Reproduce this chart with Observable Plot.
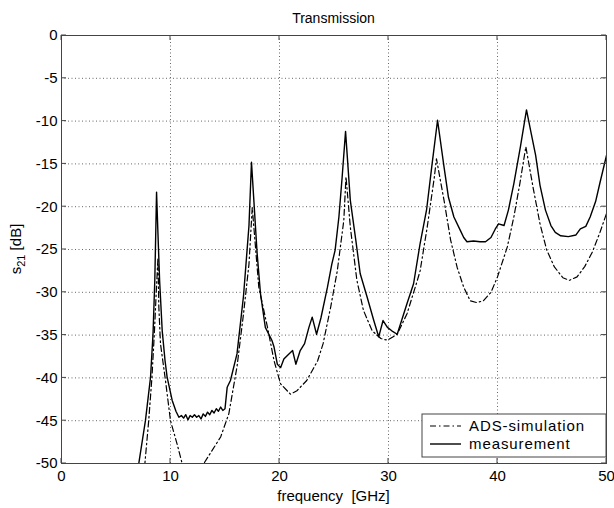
<!DOCTYPE html>
<html><head><meta charset="utf-8">
<script src="https://cdn.jsdelivr.net/npm/d3@7"></script>
<script src="https://cdn.jsdelivr.net/npm/@observablehq/plot@0.6"></script>
<style>body{margin:0;background:#fff}</style>
</head><body><div id="chart"></div>
<script>
// measurement (solid)
const measFreq = [6.9,7.09,7.7,8.17,8.4,8.56,8.65,8.72,8.84,9.0,9.24,9.5,9.69,10.15,10.5,10.77,11.0,11.2,11.4,11.6,11.8,12.0,12.2,12.4,12.6,12.8,13.0,13.2,13.4,13.6,13.8,14.0,14.2,14.4,14.6,14.8,15.0,15.2,15.5,16.1,16.7,17.2,17.43,17.95,18.26,18.7,19.3,19.5,19.8,20.1,20.4,20.7,21.2,21.5,21.9,22.3,22.7,23.0,23.4,23.8,24.4,24.8,25.1,25.45,25.75,26.06,26.5,27.0,27.4,28.05,28.65,29.1,29.5,29.9,30.3,30.8,31.1,31.7,32.3,32.9,33.5,34.0,34.5,35.1,35.5,36.0,36.6,36.9,37.2,37.8,38.4,38.9,39.4,39.8,40.1,40.6,41.0,41.5,42.1,42.66,43.1,43.5,43.9,44.4,44.9,45.3,45.8,46.5,47.2,47.6,48.1,48.5,49.0,49.4,50.0];
const measDb = [-52,-50,-45,-39.9,-34.8,-28.6,-22.8,-18.3,-22.8,-28.6,-34.5,-38,-39.9,-42.6,-43.9,-44.6,-44.4,-44.7,-44.3,-44.9,-44.4,-44.6,-44.3,-44.6,-44.4,-44.8,-44.2,-44.5,-44.0,-44.3,-43.8,-44.1,-43.6,-43.9,-43.4,-43.8,-43.6,-41.1,-40.3,-37.2,-30.4,-22.2,-14.8,-25.5,-30.2,-34.1,-35.6,-36.4,-38.4,-38.8,-37.8,-37.4,-36.8,-38.4,-36.8,-36.0,-34.1,-32.9,-34.9,-33.0,-29.4,-26.7,-25.1,-21.2,-16.5,-11.2,-19.3,-23.9,-27.8,-30.6,-33.3,-35.2,-33.3,-34.1,-34.5,-34.9,-33.7,-31.3,-29.0,-24.3,-20.3,-15.0,-9.9,-15.4,-18.9,-21.2,-22.8,-23.6,-24.1,-24.0,-24.1,-24.1,-23.6,-22.6,-22.0,-22.2,-20.4,-17.3,-13.0,-8.7,-11.5,-14.0,-17.5,-20.4,-22.2,-23.0,-23.4,-23.5,-23.3,-22.6,-22.3,-21.2,-19.4,-17.2,-14.0];
// ADS simulation (dash-dot)
const simFreq = [7.5,7.65,8.0,8.3,8.53,8.7,8.85,8.93,9.08,9.54,10.0,10.6,11.07,12.0,13.06,14.6,15.35,16.1,16.7,17.2,17.5,18.1,18.9,19.5,20.1,21.0,21.6,22.5,23.5,24.0,24.7,25.3,25.9,26.1,26.5,27.1,27.7,28.5,29.3,29.9,30.8,31.7,32.6,32.9,33.55,34.2,34.4,35.1,35.7,36.3,36.9,37.5,38.1,38.7,39.4,40.0,40.9,41.5,42.05,42.6,43.3,43.9,44.5,45.2,46.0,46.6,47.3,48.0,48.7,49.4,50.0];
const simDb = [-52,-50,-45,-39.9,-34.5,-29.8,-26,-31.7,-36,-40.3,-45,-47.7,-50,-52,-50,-46.9,-44.2,-38.7,-32.5,-26.7,-20.1,-29.4,-34.1,-38,-40.7,-41.9,-41.5,-40.3,-38,-36.0,-31.7,-27.5,-21.6,-16.5,-22.4,-28.6,-32.1,-34.5,-35.4,-35.6,-34.9,-32.5,-28.8,-27.5,-22.4,-16.6,-14.4,-19.3,-23.9,-27.1,-29.4,-31.0,-31.2,-31.0,-30.0,-28.2,-24.7,-21.2,-17.3,-13.0,-18,-22,-25,-27,-28.3,-28.6,-28.2,-27,-25.3,-23,-20.8];
const xTicks = [0,10,20,30,40,50];
const yTicks = [0,-5,-10,-15,-20,-25,-30,-35,-40,-45,-50];
const seriesNames = ["ADS-simulation","measurement"];
const titleText = "Transmission";
const xLabel = "frequency\u00a0 [GHz]";

const meas = measFreq.map((f,i)=>({f, db: measDb[i]}));
const sim = simFreq.map((f,i)=>({f, db: simDb[i]}));

const font = "'Liberation Sans', Arial, Helvetica, sans-serif";
const chart = Plot.plot({
  width: 614, height: 508,
  marginLeft: 61, marginRight: 8, marginTop: 35, marginBottom: 45,
  style: {fontFamily: font, fontSize: "15px", color: "#000", background: "#fff"},
  x: {domain: [0, 50]},
  y: {domain: [-50, 0]},
  marks: [
    Plot.gridX(xTicks, {stroke: "#666", strokeOpacity: 1, strokeDasharray: "1,2.5"}),
    Plot.gridY(yTicks, {stroke: "#666", strokeOpacity: 1, strokeDasharray: "1,2.5"}),
    Plot.line(sim, {x: "f", y: "db", stroke: "#000", strokeWidth: 1.2, strokeDasharray: "6,3,1.5,3", clip: true}),
    Plot.line(meas, {x: "f", y: "db", stroke: "#000", strokeWidth: 1.4, clip: true}),
    Plot.frame({stroke: "#444"}),
    Plot.axisX(xTicks, {anchor: "bottom", tickSize: 0, tickPadding: 7, label: null, tickFormat: d => String(d)}),
    Plot.axisY(yTicks, {anchor: "left", tickSize: 0, tickPadding: 4, label: null, tickFormat: d => String(d)})
  ]
});
document.getElementById("chart").appendChild(chart);

const svg = d3.select(chart);
const sx = chart.scale("x"), sy = chart.scale("y");
const X0 = sx.apply(0), X1 = sx.apply(50), Y0 = sy.apply(-50), Y1 = sy.apply(0);
const g = svg.append("g").attr("stroke", "#444").attr("stroke-width", 1);
const tl = 5;
xTicks.forEach(v => {
  const x = sx.apply(v);
  g.append("line").attr("x1", x).attr("x2", x).attr("y1", Y0).attr("y2", Y0 - tl);
  g.append("line").attr("x1", x).attr("x2", x).attr("y1", Y1).attr("y2", Y1 + tl);
});
yTicks.forEach(v => {
  const y = sy.apply(v);
  g.append("line").attr("x1", X0).attr("x2", X0 + tl).attr("y1", y).attr("y2", y);
  g.append("line").attr("x1", X1).attr("x2", X1 - tl).attr("y1", y).attr("y2", y);
});
const cx = (X0 + X1) / 2;
svg.append("text").attr("x", cx).attr("y", 23).attr("text-anchor", "middle")
  .attr("font-family", font).attr("font-size", 14).attr("fill", "#000").text(titleText);
svg.append("text").attr("x", cx).attr("y", 501).attr("text-anchor", "middle")
  .attr("font-family", font).attr("font-size", 15).attr("fill", "#000").text(xLabel);
const yl = svg.append("text").attr("transform", `translate(21,${(Y0 + Y1) / 2}) rotate(-90)`)
  .attr("text-anchor", "middle").attr("font-family", font).attr("font-size", 15).attr("fill", "#000");
yl.append("tspan").text("s");
yl.append("tspan").attr("font-size", 11).attr("dy", 4).text("21");
yl.append("tspan").attr("dy", -4).text(" [dB]");

// legend
const lg = svg.append("g");
lg.append("rect").attr("x", 422).attr("y", 414).attr("width", X1 - 422).attr("height", 43)
  .attr("fill", "#fff").attr("stroke", "#444");
const rows = [{y: 426, dash: "6,3,1.5,3", w: 1.2}, {y: 444, dash: null, w: 1.4}];
rows.forEach((r, i) => {
  lg.append("line").attr("x1", 430).attr("x2", 461).attr("y1", r.y).attr("y2", r.y)
    .attr("stroke", "#000").attr("stroke-width", r.w).attr("stroke-dasharray", r.dash);
  lg.append("text").attr("x", 469).attr("y", r.y + 5).attr("text-anchor", "start")
    .attr("font-family", font).attr("font-size", 15).attr("letter-spacing", 0.9)
    .attr("fill", "#000").text(seriesNames[i]);
});
</script></body></html>
